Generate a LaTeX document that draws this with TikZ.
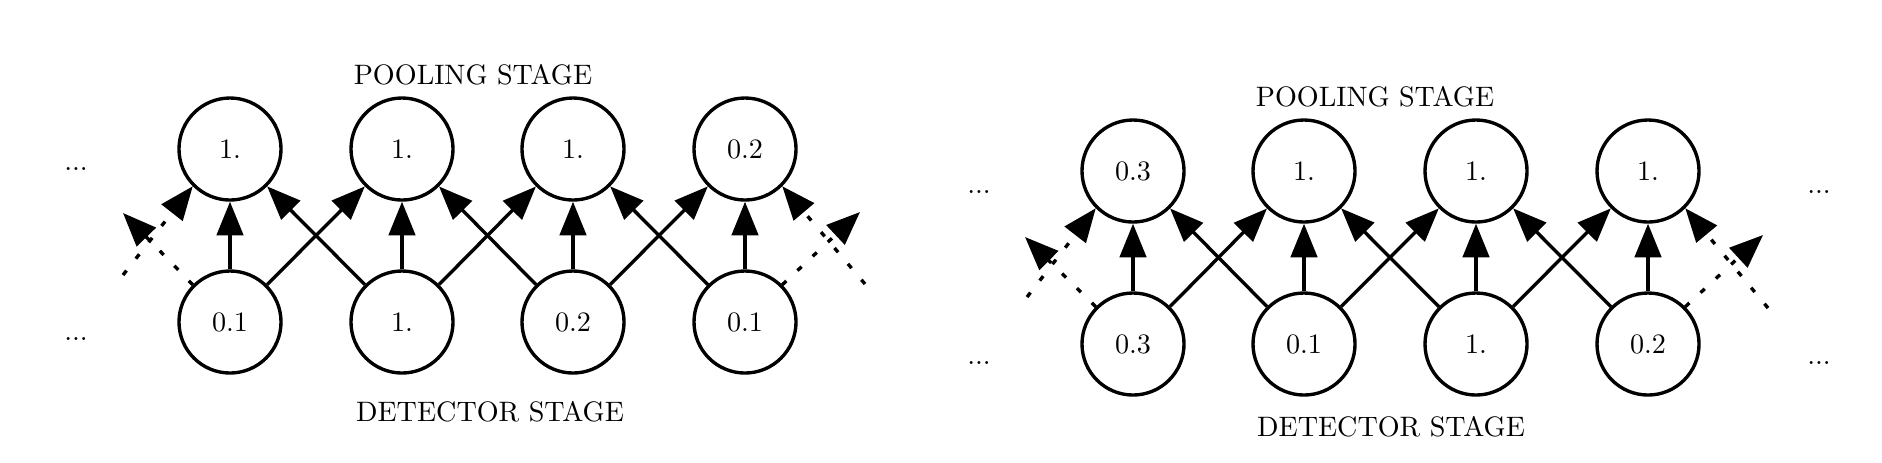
\documentclass[tikz,border=0pt]{standalone}
\usetikzlibrary{arrows.meta}
\begin{document}
\begin{tikzpicture}[x=0.0125cm,y=-0.0125cm,
  neuron/.style={circle,draw,line width=1.2pt,minimum size=1.275cm,inner sep=0pt,font=\normalsize},
  conn/.style={line width=1.2pt,-{Triangle[length=0.42cm,width=0.33cm]}},
  dconn/.style={conn,dash pattern=on 0.07cm off 0.19cm},
  lbl/.style={inner sep=0pt}]
\useasboundingbox (0,0) rectangle (1882,462);

% ---------- left figure ----------
\foreach \i/\x/\t/\b in {1/230/1./0.1, 2/402/1./1., 3/573/1./0.2, 4/745/0.2/0.1}{
  \node[neuron] (LT\i) at (\x,149) {\t};
  \node[neuron] (LB\i) at (\x,322) {\b};
}
\foreach \i in {1,...,4} \draw[conn] (LB\i) -- (LT\i);
\foreach \i/\j in {1/2,2/3,3/4}{
  \draw[conn] (LB\i) -- (LT\j);
  \draw[conn] (LB\j) -- (LT\i);
}
\coordinate (LdA) at (123,275);
\coordinate (LdB) at (123,213);
\coordinate (LdC) at (860,212);
\coordinate (LdD) at (865,284);
\draw[dconn] (LdA) -- (LT1.225);
\draw[dconn] (LB1.135) -- (LdB);
\draw[dconn] (LB4.45) -- (LdC);
\draw[dconn] (LdD) -- (LT4.315);

\node[lbl] (lpool) at (473,75) {POOLING STAGE};
\node[lbl] (ldet) at (490,412) {DETECTOR STAGE};
\node[lbl] (ldots1) at (76,169) {...};
\node[lbl] (ldots2) at (76,339) {...};

% ---------- right figure ----------
\foreach \i/\x/\t/\b in {1/1133/0.3/0.3, 2/1304/1./0.1, 3/1476/1./1., 4/1648/1./0.2}{
  \node[neuron] (RT\i) at (\x,171) {\t};
  \node[neuron] (RB\i) at (\x,344) {\b};
}
\foreach \i in {1,...,4} \draw[conn] (RB\i) -- (RT\i);
\foreach \i/\j in {1/2,2/3,3/4}{
  \draw[conn] (RB\i) -- (RT\j);
  \draw[conn] (RB\j) -- (RT\i);
}
\coordinate (RdA) at (1027,297);
\coordinate (RdB) at (1025,237);
\coordinate (RdC) at (1763,235);
\coordinate (RdD) at (1768,308);
\draw[dconn] (RdA) -- (RT1.225);
\draw[dconn] (RB1.135) -- (RdB);
\draw[dconn] (RB4.45) -- (RdC);
\draw[dconn] (RdD) -- (RT4.315);

\node[lbl] (rpool) at (1375,97) {POOLING STAGE};
\node[lbl] (rdet) at (1391,427) {DETECTOR STAGE};
\node[lbl] (rdots1) at (979,192) {...};
\node[lbl] (rdots2) at (979,363) {...};
\node[lbl] (rdots3) at (1819,192) {...};
\node[lbl] (rdots4) at (1819,363) {...};
\end{tikzpicture}
\end{document}
